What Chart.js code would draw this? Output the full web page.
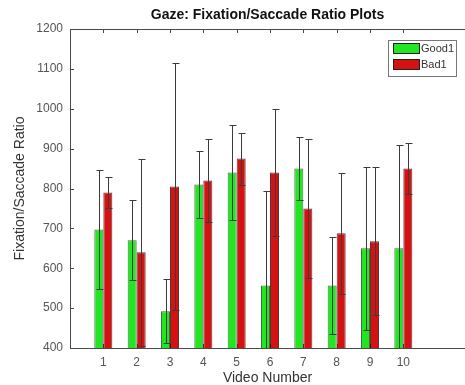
<!DOCTYPE html>
<html>
<head>
<meta charset="utf-8">
<script src="https://cdn.jsdelivr.net/npm/chart.js@4.4.0/dist/chart.umd.min.js"></script>
<style>
  html, body { margin: 0; padding: 0; background: #fff; overflow: hidden; }
  #wrap { width: 465px; height: 385px; }
</style>
</head>
<body>
<div id="wrap"><canvas id="chart"></canvas></div>
<script>
// video numbers on the x axis
const videos = [1, 2, 3, 4, 5, 6, 7, 8, 9, 10];
const seriesNames = ['Good1', 'Bad1'];
// mean fixation/saccade ratio per video
const goodMeans = [697, 670, 492, 810, 840, 557, 850, 557, 650, 650];
const badMeans = [790, 640, 805, 820, 875, 840, 750, 688, 668, 850];
// error bar half-lengths
const goodErr = [150, 100, 80, 83, 120, 236, 80, 121, 205, 260];
const badErr = [38, 235, 310, 105, 65, 160, 175, 152, 185, 65];
const yTicks = [400, 500, 600, 700, 800, 900, 1000, 1100, 1200];

const FONT = "'Liberation Sans', Arial, sans-serif";
const AXIS = '#4a4a4a';
const errs = [goodErr, badErr];

// vertical error bars with caps, drawn on top of the bars
const errorBars = {
  id: 'errorBars',
  afterDatasetsDraw(chart) {
    const { ctx, chartArea, scales: { y } } = chart;
    ctx.save();
    ctx.beginPath();
    ctx.rect(chartArea.left, chartArea.top, chartArea.width, chartArea.height);
    ctx.clip();
    ctx.strokeStyle = '#3c3c3c';
    ctx.lineWidth = 1;
    chart.data.datasets.forEach((ds, di) => {
      chart.getDatasetMeta(di).data.forEach((bar, i) => {
        const v = ds.data[i].y, e = errs[di][i];
        const x = Math.round(bar.x) + 0.5;
        const yt = Math.round(y.getPixelForValue(v + e)) + 0.5;
        const yb = Math.round(y.getPixelForValue(v - e)) + 0.5;
        ctx.beginPath();
        ctx.moveTo(x, yt); ctx.lineTo(x, yb);
        ctx.moveTo(x - 3, yt); ctx.lineTo(x + 4, yt);
        ctx.moveTo(x - 3, yb); ctx.lineTo(x + 4, yb);
        ctx.stroke();
      });
    });
    ctx.restore();
  }
};

// matlab style inward tick marks
const innerTicks = {
  id: 'innerTicks',
  beforeDatasetsDraw(chart) {
    const { ctx, chartArea: a, scales: { x, y } } = chart;
    ctx.save();
    ctx.strokeStyle = AXIS;
    ctx.lineWidth = 1;
    ctx.beginPath();
    x.ticks.forEach(t => {
      const px = Math.round(x.getPixelForValue(t.value)) + 0.5;
      ctx.moveTo(px, a.top); ctx.lineTo(px, a.top + 4);
      ctx.moveTo(px, a.bottom); ctx.lineTo(px, a.bottom - 4);
    });
    y.ticks.forEach(t => {
      const py = Math.round(y.getPixelForValue(t.value)) + 0.5;
      ctx.moveTo(a.left, py); ctx.lineTo(a.left + 4, py);
    });
    ctx.stroke();
    ctx.restore();
  }
};

// boxed legend in the top right corner
const boxLegend = {
  id: 'boxLegend',
  afterDraw(chart) {
    const ctx = chart.ctx;
    const bx = 388, by = 40, bw = 68, bh = 36;
    ctx.save();
    ctx.fillStyle = '#fff';
    ctx.fillRect(bx, by, bw, bh);
    ctx.strokeStyle = '#777';
    ctx.lineWidth = 1;
    ctx.strokeRect(bx + 0.5, by + 0.5, bw, bh);
    ctx.font = '11px ' + FONT;
    ctx.textBaseline = 'middle';
    chart.data.datasets.forEach((ds, i) => {
      const ry = by + 3 + i * 16;
      ctx.fillStyle = ds.backgroundColor;
      ctx.fillRect(bx + 5, ry, 26, 10);
      ctx.strokeStyle = '#222';
      ctx.strokeRect(bx + 5.5, ry + 0.5, 26, 10);
      ctx.fillStyle = '#333';
      ctx.fillText(ds.label, bx + 33, ry + 6);
    });
    ctx.restore();
  }
};

const ctx = document.getElementById('chart').getContext('2d');
new Chart(ctx, {
  type: 'bar',
  data: {
    datasets: [
      {
        label: seriesNames[0],
        data: videos.map((v, i) => ({ x: v, y: goodMeans[i] })),
        backgroundColor: '#22e622',
        borderColor: 'rgba(0,60,0,0.75)',
        borderWidth: 1
      },
      {
        label: seriesNames[1],
        data: videos.map((v, i) => ({ x: v, y: badMeans[i] })),
        backgroundColor: '#d41212',
        borderColor: 'rgba(60,0,0,0.8)',
        borderWidth: 1
      }
    ]
  },
  options: {
    responsive: true,
    maintainAspectRatio: false,
    animation: false,
    layout: { padding: 0 },
    categoryPercentage: 0.54,
    barPercentage: 1,
    plugins: {
      legend: { display: false },
      tooltip: { enabled: false },
      title: { display: false }
    },
    scales: {
      x: {
        type: 'linear',
        position: 'bottom',
        min: 0,
        max: 11.85,
        offset: false,
        afterBuildTicks: s => { s.ticks = videos.map(v => ({ value: v })); },
        afterFit: s => { s.height = 37; },
        grid: { display: true, drawOnChartArea: false, drawTicks: false, offset: false },
        border: { display: true, color: AXIS, width: 1 },
        ticks: { padding: 7, color: '#555', font: { family: FONT, size: 12 }, maxRotation: 0, callback: v => String(v) },
        title: {
          display: true,
          text: 'Video Number',
          color: '#333',
          font: { family: FONT, size: 14, lineHeight: 1 },
          padding: { top: 0, bottom: 0 }
        }
      },
      xTop: {
        type: 'linear',
        position: 'top',
        min: 0,
        max: 11.85,
        offset: false,
        afterFit: s => { s.height = 29; },
        grid: { display: true, drawOnChartArea: false, drawTicks: false },
        border: { display: true, color: AXIS, width: 1 },
        ticks: { display: false },
        title: {
          display: true,
          text: 'Gaze: Fixation/Saccade Ratio Plots',
          color: '#111',
          font: { family: FONT, size: 14, weight: 'bold' },
          padding: { top: 7, bottom: 0 }
        }
      },
      y: {
        min: 400,
        max: 1200,
        afterBuildTicks: s => { s.ticks = yTicks.map(v => ({ value: v })); },
        afterFit: s => { s.width = 70; },
        grid: { display: true, drawOnChartArea: false, drawTicks: false },
        border: { display: true, color: AXIS, width: 1 },
        ticks: { padding: 7, color: '#555', font: { family: FONT, size: 12 }, callback: v => String(v) },
        title: {
          display: true,
          text: 'Fixation/Saccade Ratio',
          color: '#333',
          font: { family: FONT, size: 14 },
          padding: { top: 12, bottom: 0 }
        }
      }
    }
  },
  plugins: [innerTicks, errorBars, boxLegend]
});
</script>
</body>
</html>
